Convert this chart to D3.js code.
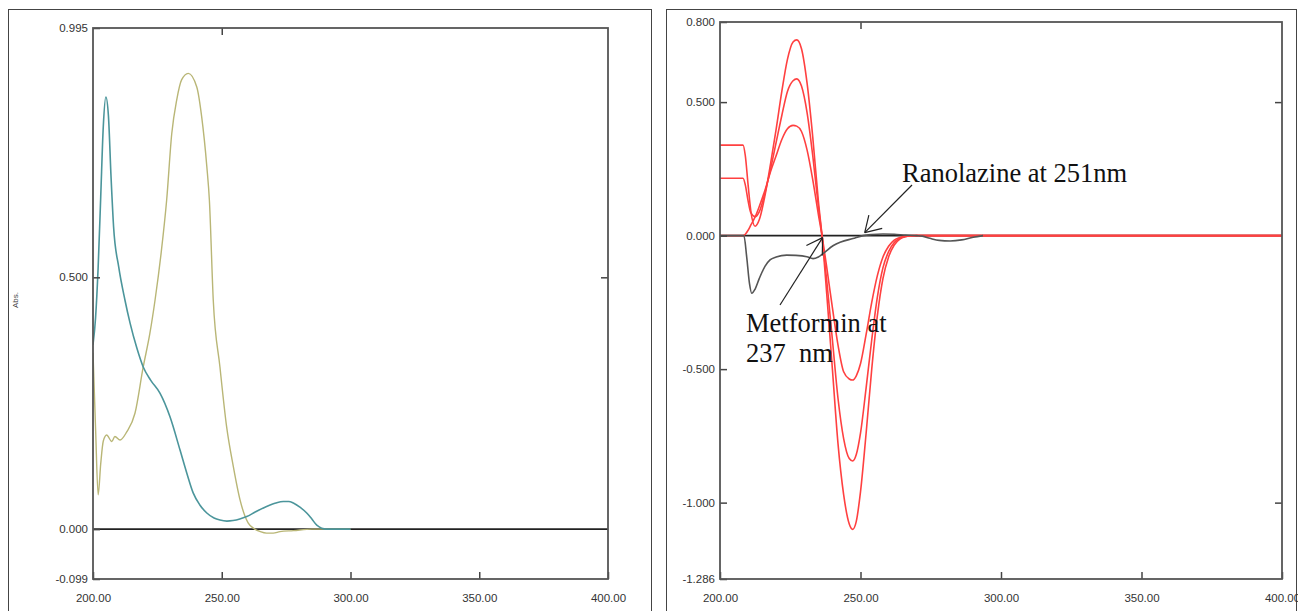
<html>
<head>
<script src="https://d3js.org/d3.v7.min.js"></script>
<style>
  body { margin: 0; background: #fff; }
  .tick text { font-family: "Liberation Sans", Arial, sans-serif; font-size: 11.5px; fill: #333; }
  .note { font-family: "Liberation Serif", "Times New Roman", serif; font-size: 26.5px; fill: #111; }
</style>
</head>
<body>
<svg id="chart" width="1298" height="611"></svg>
<script>
// ---- left panel: absorption spectra ----
const tealNm  = [200, 201, 202, 203, 204, 205, 206, 207, 208, 210, 212.4, 214.4, 217, 219.5, 222.5, 226, 229.9, 233.8, 236.5, 238.9, 241.5, 244.2, 247, 249.3, 252, 254.4, 257, 259.7, 263, 267.4, 271, 273.9, 276, 277.8, 280.5, 283, 285, 286.9, 290.7, 300];
const tealAbs = [0.366, 0.42, 0.52, 0.66, 0.80, 0.858, 0.82, 0.70, 0.60, 0.52, 0.455, 0.409, 0.36, 0.322, 0.295, 0.270, 0.223, 0.157, 0.11, 0.072, 0.048, 0.032, 0.022, 0.018, 0.016, 0.017, 0.02, 0.025, 0.034, 0.045, 0.052, 0.055, 0.055, 0.052, 0.043, 0.032, 0.02, 0.008, 0.0, 0.0];

const yellowNm  = [200, 201, 202, 203, 204, 205.3, 207.3, 208.5, 210.5, 213.1, 216.3, 219.5, 222.1, 224.1, 226.5, 228.6, 230.6, 232.5, 234.4, 237.0, 240.3, 242.2, 244.2, 245.2, 246.7, 249.3, 251.9, 254.5, 257.1, 260.3, 262.3, 265, 267.4, 270, 272.6, 277.8, 285, 300];
const yellowAbs = [0.35, 0.20, 0.068, 0.13, 0.175, 0.187, 0.174, 0.184, 0.177, 0.193, 0.230, 0.322, 0.389, 0.455, 0.55, 0.653, 0.786, 0.852, 0.892, 0.905, 0.878, 0.819, 0.72, 0.653, 0.455, 0.322, 0.203, 0.124, 0.058, 0.012, 0.002, -0.005, -0.008, -0.008, -0.005, -0.003, 0.0, 0.0];

// ---- right panel: first derivative spectra ----
const redNm     = [200, 208.2, 209, 210, 211, 212.5, 214, 216, 218, 220, 222, 224, 226, 227.3, 229, 231, 233, 235, 236.3, 238, 240, 242, 244, 246, 247.2, 248.5, 250, 252, 254, 256, 258, 260, 262, 264, 266, 268, 270, 400];
const redHigh   = [0.339, 0.339, 0.30, 0.19, 0.09, 0.035, 0.06, 0.15, 0.27, 0.40, 0.54, 0.66, 0.725, 0.733, 0.70, 0.57, 0.37, 0.13, 0, -0.22, -0.50, -0.78, -0.97, -1.08, -1.10, -1.07, -0.96, -0.74, -0.50, -0.30, -0.16, -0.08, -0.035, -0.013, -0.004, -0.001, 0, 0];
const redMid    = [0.215, 0.215, 0.19, 0.13, 0.085, 0.071, 0.09, 0.16, 0.25, 0.35, 0.45, 0.54, 0.58, 0.587, 0.56, 0.46, 0.30, 0.11, 0, -0.17, -0.39, -0.61, -0.76, -0.835, -0.844, -0.82, -0.74, -0.57, -0.39, -0.23, -0.12, -0.06, -0.026, -0.01, -0.003, -0.001, 0, 0];
const redLow    = [0, 0, 0.005, 0.02, 0.04, 0.07, 0.11, 0.17, 0.24, 0.30, 0.36, 0.40, 0.413, 0.41, 0.39, 0.32, 0.21, 0.08, 0, -0.12, -0.27, -0.41, -0.51, -0.537, -0.541, -0.525, -0.48, -0.37, -0.25, -0.15, -0.08, -0.04, -0.017, -0.007, -0.002, 0, 0, 0];

const grayNm  = [200, 208.5, 209.5, 210.5, 211.3, 212.5, 214, 216, 217.8, 220, 223.7, 227, 230.9, 233.1, 235, 237, 240.2, 243, 247.3, 250.9, 254, 258, 262, 266, 270, 272, 274.7, 278, 281.9, 286, 290.1, 293.6];
const grayDer = [0, 0, -0.08, -0.18, -0.216, -0.2, -0.16, -0.115, -0.091, -0.08, -0.073, -0.074, -0.079, -0.086, -0.08, -0.065, -0.038, -0.024, -0.011, 0.0, 0.004, 0.006, 0.005, 0.002, 0, -0.002, -0.01, -0.018, -0.02, -0.016, -0.006, 0];

const xTicks = [200, 250, 300, 350, 400];
const leftYTicks = [0.995, 0.500, 0.000, -0.099];
const rightYTicks = [0.800, 0.500, 0.000, -0.500, -1.000, -1.286];

const svg = d3.select("#chart");
svg.append("rect").attr("width", 1298).attr("height", 611).attr("fill", "#fff");

// outer frames
svg.append("rect").attr("x", 8.5).attr("y", 9.5).attr("width", 643).attr("height", 620)
  .attr("fill", "none").attr("stroke", "#444").attr("stroke-width", 1);
svg.append("rect").attr("x", 666.5).attr("y", 9.5).attr("width", 630).attr("height", 620)
  .attr("fill", "none").attr("stroke", "#444").attr("stroke-width", 1);

function panel(opts) {
  const x = d3.scaleLinear().domain([200, 400]).range([opts.left, opts.right]);
  const y = d3.scaleLinear().domain([opts.yMin, opts.yMax]).range([opts.bottom, opts.top]);
  const g = svg.append("g");

  const clipId = "clip" + opts.left;
  g.append("clipPath").attr("id", clipId).append("rect")
    .attr("x", opts.left).attr("y", opts.top)
    .attr("width", opts.right - opts.left).attr("height", opts.bottom - opts.top);

  // zero line
  g.append("line")
    .attr("x1", opts.left).attr("x2", opts.right)
    .attr("y1", y(0)).attr("y2", y(0))
    .attr("stroke", "#222").attr("stroke-width", 1.6);

  const curves = g.append("g").attr("clip-path", `url(#${clipId})`);
  opts.series.forEach(s => {
    const pts = s.nm.map((d, i) => [d, s.val[i]]);
    curves.append("path").datum(pts)
      .attr("d", d3.line().x(d => x(d[0])).y(d => y(d[1])).curve(d3.curveMonotoneX))
      .attr("fill", "none")
      .attr("stroke", s.color)
      .attr("stroke-width", s.width);
  });

  // axes
  const left = g.append("g").attr("transform", `translate(${opts.left},0)`)
    .call(d3.axisLeft(y).tickValues(opts.yTicks).tickFormat(d3.format(".3f"))
      .tickSizeInner(-7).tickSizeOuter(0).tickPadding(5));
  left.selectAll(".tick text").text(d => d3.format(".3f")(d).replace("−", "-"));
  g.append("g").attr("transform", `translate(0,${opts.bottom})`)
    .call(d3.axisBottom(x).tickValues(xTicks).tickFormat(d3.format(".2f"))
      .tickSizeInner(-7).tickSizeOuter(0).tickPadding(15));
  g.append("g").attr("transform", `translate(0,${opts.top})`)
    .call(d3.axisTop(x).tickValues([250]).tickFormat("").tickSizeInner(-7).tickSizeOuter(0));
  g.append("g").attr("transform", `translate(${opts.right},0)`)
    .call(d3.axisRight(y).tickValues(opts.rightTicks).tickFormat("").tickSizeInner(-7).tickSizeOuter(0));

  g.selectAll(".domain").remove();
  g.selectAll(".tick line").attr("stroke", "#444").attr("stroke-width", 1.5);

  // plot frame
  g.append("rect")
    .attr("x", opts.left).attr("y", opts.top)
    .attr("width", opts.right - opts.left).attr("height", opts.bottom - opts.top)
    .attr("fill", "none").attr("stroke", "#555").attr("stroke-width", 1.8);

  // x label, mostly cut off at the bottom edge
  g.append("text")
    .attr("x", x(300) - 5).attr("y", 618)
    .attr("text-anchor", "middle")
    .style("font-family", "Liberation Sans, Arial, sans-serif")
    .style("font-size", "12px").style("fill", "#444")
    .text("nm");

  return { x, y, g };
}

const L = panel({
  left: 93, right: 608, top: 28, bottom: 579,
  yMin: -0.099, yMax: 0.995,
  yTicks: leftYTicks, rightTicks: [0.5],
  series: [
    { nm: yellowNm, val: yellowAbs, color: "#b9b676", width: 1.4 },
    { nm: tealNm, val: tealAbs, color: "#4b959b", width: 1.6 }
  ]
});

L.g.append("text")
  .attr("transform", "translate(18,300) rotate(-90)")
  .attr("text-anchor", "middle")
  .style("font-family", "Liberation Sans, Arial, sans-serif")
  .style("font-size", "8px").style("fill", "#444")
  .text("Abs.");

const R = panel({
  left: 720, right: 1282, top: 22, bottom: 579,
  yMin: -1.286, yMax: 0.800,
  yTicks: rightYTicks, rightTicks: [0.5, -1.0],
  series: [
    { nm: redNm, val: redLow, color: "#ff4040", width: 1.6 },
    { nm: redNm, val: redMid, color: "#ff4040", width: 1.6 },
    { nm: redNm, val: redHigh, color: "#ff4040", width: 1.6 },
    { nm: grayNm, val: grayDer, color: "#555", width: 1.6 }
  ]
});

// annotations
function arrow(from, to) {
  const ang = Math.atan2(to[1] - from[1], to[0] - from[0]);
  R.g.append("line")
    .attr("x1", from[0]).attr("y1", from[1]).attr("x2", to[0]).attr("y2", to[1])
    .attr("stroke", "#222").attr("stroke-width", 1.2);
  [-0.55, 0.55].forEach(a => {
    R.g.append("line")
      .attr("x1", to[0]).attr("y1", to[1])
      .attr("x2", to[0] - 18 * Math.cos(ang + a)).attr("y2", to[1] - 18 * Math.sin(ang + a))
      .attr("stroke", "#222").attr("stroke-width", 1.2);
  });
}

R.g.append("text").attr("class", "note").attr("x", 902).attr("y", 182).text("Ranolazine at 251nm");
arrow([912, 185], [R.x(251.5), R.y(0) - 3]);

R.g.append("text").attr("class", "note").attr("x", 746).attr("y", 332).text("Metformin at");
R.g.append("text").attr("class", "note").attr("x", 746).attr("y", 362)
  .attr("xml:space", "preserve").style("white-space", "pre").text("237  nm");
arrow([780, 305], [R.x(236.5), R.y(0) + 2]);
</script>
</body>
</html>
